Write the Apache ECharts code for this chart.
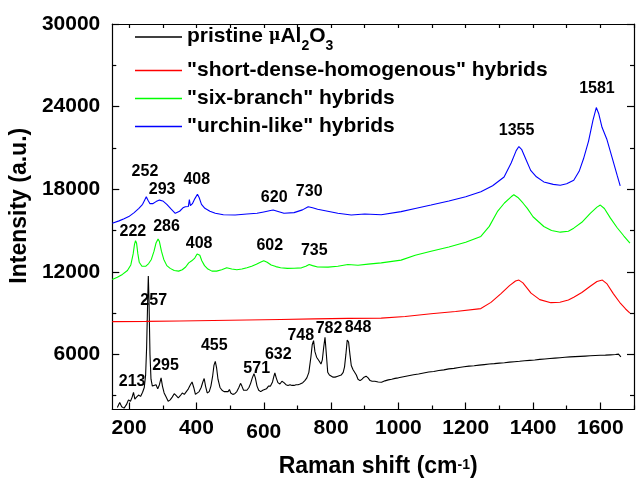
<!DOCTYPE html>
<html>
<head>
<meta charset="utf-8">
<script src="https://cdn.jsdelivr.net/npm/echarts@6/dist/echarts.min.js"></script>
<style>html,body{margin:0;padding:0;background:#fff}#c{width:636px;height:483px}</style>
</head>
<body>
<div id="c"></div>
<script>
// ---------- data ----------
var seriesNames = ['pristine', '"short-dense-homogenous" hybrids', '"six-branch" hybrids', '"urchin-like" hybrids'];
var seriesColors = ['#000000', '#ff0000', '#00ff00', '#0000ff'];

var pristine = [[165,2150],[172,2500],[178,2200],[185,2100],[192,2350],[198,2700],[204,2600],[209,2900],[213,3250],[217,2750],[222,2900],[228,3050],[234,2950],[240,3250],[245,3600],[249,4500],[252,6500],[255,9800],[257,11700],[259,10000],[262,6000],[265,4200],[269,3700],[274,3600],[280,3800],[285,3500],[290,3800],[295,4300],[299,3700],[304,3200],[310,2900],[316,2600],[322,2700],[328,2900],[334,3150],[340,3000],[346,2850],[352,3000],[358,3200],[364,3100],[370,3300],[376,3500],[382,3800],[387,4000],[392,3600],[397,3100],[402,3000],[408,3300],[414,3600],[419,4000],[423,4250],[427,3700],[432,3200],[438,3300],[443,3700],[448,4400],[452,5200],[456,5500],[460,5000],[464,4200],[470,3600],[476,3400],[482,3300],[488,3300],[494,3300],[498,3450],[502,3200],[508,3100],[514,3150],[520,3300],[526,3600],[531,3900],[535,3700],[540,3400],[545,3300],[550,3400],[556,3600],[561,3900],[566,4300],[571,4600],[575,4300],[580,3700],[585,3400],[591,3300],[597,3400],[602,3300],[608,3500],[614,3700],[620,3700],[626,4000],[630,4400],[633,4650],[637,4300],[642,3950],[648,3850],[654,4050],[660,3950],[666,3800],[672,3750],[678,3800],[684,3750],[690,3750],[696,3800],[702,3800],[708,3850],[712,3900],[716,3950],[722,4100],[728,4300],[734,4700],[740,5800],[744,6700],[748,7000],[752,6200],[757,5800],[760,5900],[765,5500],[770,5300],[774,5600],[778,6500],[782,7250],[786,6000],[790,4700],[795,4500],[800,4400],[806,4350],[812,4350],[818,4400],[824,4450],[830,4500],[836,4700],[840,5100],[844,6000],[848,7050],[852,6900],[856,6000],[860,5200],[865,4900],[870,4850],[875,4500],[880,4200],[886,4100],[892,4200],[898,4350],[904,4420],[910,4300],[916,4100],[922,4050],[930,4050],[940,4000],[950,3980],[960,4080],[970,4150],[980,4200],[990,4260],[1000,4300],[1015,4380],[1030,4450],[1045,4520],[1060,4580],[1075,4650],[1090,4720],[1105,4760],[1120,4830],[1135,4880],[1150,4950],[1165,4990],[1180,5050],[1195,5100],[1210,5150],[1225,5180],[1240,5220],[1255,5260],[1270,5300],[1285,5330],[1300,5370],[1315,5400],[1330,5440],[1345,5470],[1360,5500],[1375,5540],[1390,5570],[1405,5600],[1420,5640],[1435,5670],[1450,5700],[1465,5730],[1480,5760],[1495,5790],[1510,5820],[1525,5840],[1540,5860],[1555,5880],[1570,5900],[1585,5920],[1600,5940],[1615,5950],[1630,5970],[1645,5990],[1654,6020],[1661,5820]];

var shortDense = [[150,8380],[250,8400],[350,8430],[450,8460],[550,8500],[650,8540],[750,8580],[850,8620],[949,8640],[1020,8760],[1097,8960],[1170,9120],[1245,9330],[1275,9780],[1304,10400],[1330,11000],[1348,11330],[1358,11400],[1370,11200],[1394,10450],[1420,9980],[1453,9760],[1480,9790],[1505,9950],[1521,10150],[1545,10500],[1570,10950],[1590,11300],[1606,11400],[1620,11120],[1639,10400],[1660,9700],[1675,9300],[1688,9000]];

var sixBranch = [[150,11450],[165,11600],[180,11810],[195,12100],[205,12500],[212,13300],[216,14000],[219,14260],[222,14100],[226,13300],[230,12700],[238,12400],[249,12400],[258,12600],[266,12900],[274,13500],[280,14100],[286,14380],[290,14200],[296,13500],[303,12900],[312,12450],[322,12250],[334,12100],[347,12050],[358,12150],[368,12350],[377,12650],[386,12800],[395,13000],[402,13300],[406,13400],[410,13200],[416,12800],[424,12450],[434,12200],[446,12050],[460,12050],[475,12150],[490,12290],[505,12200],[520,12150],[535,12200],[550,12300],[564,12410],[578,12550],[590,12700],[600,12800],[610,12700],[622,12500],[636,12380],[650,12300],[670,12250],[690,12260],[712,12290],[725,12400],[735,12530],[745,12450],[760,12350],[791,12340],[820,12400],[850,12530],[880,12480],[910,12560],[949,12650],[1008,12850],[1050,13200],[1097,13490],[1150,13800],[1200,14150],[1245,14570],[1270,15300],[1294,16370],[1315,17000],[1335,17450],[1343,17600],[1355,17400],[1370,17000],[1383,16610],[1400,16000],[1432,15290],[1455,15000],[1481,14880],[1505,14950],[1521,15170],[1545,15600],[1570,16250],[1590,16700],[1600,16850],[1612,16600],[1630,15900],[1650,15200],[1670,14600],[1688,14090]];

var urchin = [[150,15530],[170,15700],[185,15850],[199,16010],[215,16300],[229,16610],[240,16900],[246,17200],[251,17450],[256,17200],[262,16950],[270,16950],[280,17100],[290,17210],[300,17150],[312,16900],[325,16550],[337,16250],[350,16400],[360,16650],[367,16730],[376,16750],[379,17250],[382,16800],[388,16950],[395,17300],[403,17640],[408,17400],[415,16900],[425,16610],[440,16400],[456,16250],[480,16150],[515,16130],[550,16200],[580,16250],[600,16350],[620,16450],[628,16490],[640,16400],[660,16250],[690,16300],[715,16500],[732,16730],[745,16650],[760,16550],[790,16400],[820,16250],[860,16130],[900,16200],[949,16150],[1008,16370],[1050,16600],[1097,16850],[1150,17150],[1200,17450],[1245,17810],[1280,18250],[1314,18890],[1335,19900],[1350,20800],[1358,21100],[1366,20900],[1380,20100],[1393,19370],[1410,18900],[1432,18530],[1460,18350],[1481,18290],[1500,18400],[1521,18650],[1537,19300],[1550,20210],[1565,21500],[1578,23000],[1588,23930],[1595,23500],[1605,22500],[1619,21650],[1635,20300],[1650,19000],[1659,18240]];

// peak labels: [x, y, text]
var peakLabels = [
  [209,4010,'213'],[273,9890,'257'],[308,5210,'295'],[453,6650,'455'],[579,4970,'571'],[643,6000,'632'],[710,7370,'748'],[794,7850,'782'],[880,7970,'848'],
  [211,14930,'222'],[311,15290,'286'],[408,14040,'408'],[618,13920,'602'],[750,13540,'735'],
  [247,19250,'252'],[298,18000,'293'],[401,18720,'408'],[631,17400,'620'],[735,17810,'730'],[1351,22270,'1355'],[1590,25290,'1581']
];

var xMin = 150, xMax = 1700, yMin = 2000, yMax = 30000;
var xMajor = [200,400,600,800,1000,1200,1400,1600];
var xMinor = [300,500,700,900,1100,1300,1500,1700];
var yMajor = [6000,12000,18000,24000,30000];
var yMinor = [3000,9000,15000,21000,27000];

// ---------- chart ----------
var FF = '"Liberation Sans", Arial, sans-serif';
var chart = echarts.init(document.getElementById('c'), null, {renderer: 'canvas'});

function tickAxis(extra) {
  return {
    type: 'value', min: extra.isX ? xMin : yMin, max: extra.isX ? xMax : yMax,
    position: extra.position,
    splitLine: {show: false},
    axisLine: {show: extra.line !== false, lineStyle: {color: '#000', width: 1.2}},
    axisLabel: {show: false},
    axisTick: {show: true, inside: true, length: extra.len, customValues: extra.ticks, lineStyle: {color: '#000', width: 1.2}}
  };
}

var lineSeries = [pristine, shortDense, sixBranch, urchin].map(function (d, i) {
  return {
    name: seriesNames[i], type: 'line', data: d, showSymbol: false, symbol: 'none',
    lineStyle: {color: seriesColors[i], width: 1.1}, itemStyle: {color: seriesColors[i]},
    xAxisIndex: 0, yAxisIndex: 0, z: 3 + i, silent: true
  };
});

var option = {
  animation: false,
  backgroundColor: '#fff',
  grid: {left: 110, right: 2, top: 24, bottom: 70},
  legend: {
    data: seriesNames,
    orient: 'vertical', left: 135, top: 26, padding: 0,
    itemWidth: 47, itemHeight: 1.5, itemGap: 7, icon: 'rect',
    textStyle: {
      fontFamily: FF, fontWeight: 'bold', fontSize: 21, color: '#000', lineHeight: 21,
      rich: {
        a: {fontFamily: FF, fontWeight: 'bold', fontSize: 21, lineHeight: 22, verticalAlign: 'top'},
        m: {fontFamily: 'DejaVu Serif, serif', fontWeight: 'bold', fontSize: 16, lineHeight: 22, verticalAlign: 'top', padding: [2,0,0,0]},
        s: {fontFamily: FF, fontWeight: 'bold', fontSize: 14, lineHeight: 14, verticalAlign: 'top', padding: [13,0,0,0]}
      }
    },
    formatter: function (name) {
      if (name === 'pristine') return '{a|pristine }{m|μ}{a|Al}{s|2}{a|O}{s|3}';
      return name;
    }
  },
  xAxis: [
    {
      type: 'value', min: xMin, max: xMax, position: 'bottom',
      splitLine: {show: false},
      axisLine: {lineStyle: {color: '#000', width: 1.2}},
      axisTick: {inside: true, length: 7, customValues: xMajor, lineStyle: {color: '#000', width: 1.2}},
      axisLabel: {
        customValues: xMajor, margin: 8,
        formatter: function (v) { return v === 600 ? '{low|600}' : '{n|' + v + '}'; },
        rich: {
          n: {fontFamily: FF, fontWeight: 'bold', fontSize: 21, color: '#000', lineHeight: 22},
          low: {fontFamily: FF, fontWeight: 'bold', fontSize: 21, color: '#000', lineHeight: 22, padding: [7,0,0,0]}
        }
      },
      name: '{a|Raman shift (cm}{s|-1}{a|)}', nameLocation: 'middle', nameGap: 44,
      nameTextStyle: {
        padding: [0,0,0,10],
        rich: {
          a: {fontFamily: FF, fontWeight: 'bold', fontSize: 23, color: '#000', lineHeight: 26},
          s: {fontFamily: FF, fontWeight: 'bold', fontSize: 14, color: '#000', lineHeight: 26, padding: [0,0,2,0]}
        }
      }
    },
    tickAxis({isX: true, len: 4, ticks: xMinor, line: false, position: 'bottom'}),
    tickAxis({isX: true, len: 4, ticks: xMajor.concat(xMinor), position: 'top'})
  ],
  yAxis: [
    {
      type: 'value', min: yMin, max: yMax, position: 'left',
      splitLine: {show: false},
      axisLine: {lineStyle: {color: '#000', width: 1.2}},
      axisTick: {inside: true, length: 7, customValues: yMajor, lineStyle: {color: '#000', width: 1.2}},
      axisLabel: {
        customValues: yMajor, margin: 12,
        formatter: function (v) { return String(v); },
        fontFamily: FF, fontWeight: 'bold', fontSize: 21, color: '#000'
      },
      name: 'Intensity (a.u.)', nameLocation: 'middle', nameGap: 78, nameRotate: 90,
      nameTextStyle: {fontFamily: FF, fontWeight: 'bold', fontSize: 23, color: '#000', padding: [0,0,0,22]}
    },
    tickAxis({isX: false, len: 4, ticks: yMinor, line: false, position: 'left'}),
    tickAxis({isX: false, len: 7, ticks: yMajor, position: 'right'}),
    tickAxis({isX: false, len: 4, ticks: yMinor, line: false, position: 'right'})
  ],
  series: lineSeries.concat([{
    type: 'scatter', data: peakLabels, symbol: 'circle', symbolSize: 1,
    itemStyle: {color: 'rgba(0,0,0,0)', opacity: 1}, silent: true, z: 10,
    label: {
      show: true, position: 'inside',
      formatter: function (p) { return p.data[2]; },
      fontFamily: FF, fontWeight: 'bold', fontSize: 16, color: '#000',
      textBorderWidth: 0, textBorderColor: 'transparent'
    }
  }])
};
chart.setOption(option);
</script>
</body>
</html>
